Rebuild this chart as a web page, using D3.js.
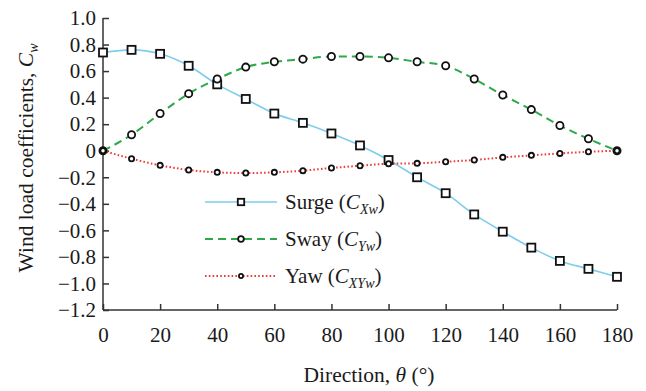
<!DOCTYPE html>
<meta charset="utf-8">
<head>
    <style type="text/css">
        body { margin: 0; background: #fff; }
        text { font-family: "Liberation Serif", "DejaVu Serif", serif; fill: #1a1a1a; }
        .axis path, .axis line { stroke: #333; stroke-width: 1.5; }
        .axis text { font-size: 21px; }
    </style>
</head>
<body>
    <script src="https://d3js.org/d3.v7.min.js"></script>
    <script>
        // data
        var directions = [0, 10, 20, 30, 40, 50, 60, 70, 80, 90, 100, 110, 120, 130, 140, 150, 160, 170, 180];
        var surge = [0.74, 0.76, 0.73, 0.64, 0.50, 0.39, 0.28, 0.21, 0.13, 0.04, -0.07, -0.20, -0.32, -0.48, -0.61, -0.73, -0.83, -0.89, -0.95];
        var sway = [0, 0.12, 0.28, 0.43, 0.54, 0.63, 0.67, 0.69, 0.71, 0.71, 0.70, 0.67, 0.64, 0.54, 0.42, 0.31, 0.19, 0.09, 0];
        var yaw = [0, -0.06, -0.11, -0.145, -0.163, -0.168, -0.163, -0.15, -0.13, -0.113, -0.098, -0.095, -0.083, -0.07, -0.05, -0.035, -0.02, -0.008, 0];
        var xTicks = [0, 20, 40, 60, 80, 100, 120, 140, 160, 180];
        var yTicks = [1.0, 0.8, 0.6, 0.4, 0.2, 0, -0.2, -0.4, -0.6, -0.8, -1.0, -1.2];

        var width = 646, height = 391;

        var xScale = d3.scaleLinear().domain([0, 180]).range([103, 617]);
        var yScale = d3.scaleLinear().domain([-1.2, 1.0]).range([310, 18]);

        var svg = d3.select("body").append("svg")
            .attr("width", width)
            .attr("height", height);

        // bottom axis, ticks pointing inward
        var xAxis = svg.append("g")
            .attr("class", "axis")
            .attr("transform", "translate(0," + yScale(-1.2) + ")")
            .call(d3.axisBottom(xScale).tickValues(xTicks).tickSizeInner(-6).tickSizeOuter(0).tickPadding(17)
                .tickFormat(function (d) { return d; }));
        xAxis.select(".domain").attr("d", "M" + xScale(0) + ",0H" + xScale(180));

        // left axis
        var yAxis = svg.append("g")
            .attr("class", "axis")
            .attr("transform", "translate(" + xScale(0) + ",0)")
            .call(d3.axisLeft(yScale).tickValues(yTicks).tickSizeInner(-6).tickSizeOuter(0).tickPadding(7)
                .tickFormat(function (d) {
                    if (d === 0) return "0";
                    return d3.format(".1f")(d).replace("-", "\u2212");
                }));
        yAxis.select(".domain").attr("d", "M0," + yScale(1.0) + "V" + yScale(-1.2));
        svg.selectAll(".axis text").attr("fill", "#1a1a1a");

        var series = [
            { name: "Surge", sub: "Xw", values: surge, color: "#7dcdec", dash: null, width: 1.6, marker: "square" },
            { name: "Sway", sub: "Yw", values: sway, color: "#2fa84a", dash: "8,5", width: 2, marker: "circle" },
            { name: "Yaw", sub: "XYw", values: yaw, color: "#ee3b3b", dash: "1.6,2.2", width: 2, marker: "small" }
        ];

        var line = d3.line()
            .x(function (d) { return xScale(d.x); })
            .y(function (d) { return yScale(d.y); })
            .curve(d3.curveMonotoneX);

        function drawMarker(g, type, cx, cy, k) {
            k = k || 1;
            if (type === "square") {
                g.append("rect").attr("x", cx - 4 * k).attr("y", cy - 4 * k).attr("width", 8 * k).attr("height", 8 * k)
                    .attr("fill", "#fff").attr("stroke", "#111").attr("stroke-width", 1.8);
            } else if (type === "circle") {
                g.append("circle").attr("cx", cx).attr("cy", cy).attr("r", 3.6 * k)
                    .attr("fill", "#fff").attr("stroke", "#111").attr("stroke-width", 1.8);
            } else {
                g.append("circle").attr("cx", cx).attr("cy", cy).attr("r", 2.6 * k)
                    .attr("fill", "#fff").attr("stroke", "#111").attr("stroke-width", 1.8);
            }
        }

        series.forEach(function (s) {
            var pts = directions.map(function (d, i) { return { x: d, y: s.values[i] }; });
            svg.append("path")
                .datum(pts)
                .attr("fill", "none")
                .attr("stroke", s.color)
                .attr("stroke-width", s.width)
                .attr("stroke-dasharray", s.dash)
                .attr("d", line);
        });

        series.forEach(function (s) {
            var g = svg.append("g");
            directions.forEach(function (d, i) {
                drawMarker(g, s.marker, xScale(d), yScale(s.values[i]));
            });
        });

        // legend
        var legend = svg.append("g");
        series.forEach(function (s, i) {
            var ly = 202 + i * 37;
            legend.append("line")
                .attr("x1", 205).attr("x2", 277).attr("y1", ly).attr("y2", ly)
                .attr("stroke", s.color).attr("stroke-width", s.width)
                .attr("stroke-dasharray", s.dash);
            drawMarker(legend, s.marker, 241, ly, 0.8);
            var t = legend.append("text")
                .attr("x", 285).attr("y", ly + 7)
                .style("font-size", "21px");
            t.append("tspan").text(s.name + " (");
            t.append("tspan").attr("font-style", "italic").text("C");
            t.append("tspan").attr("font-style", "italic").attr("font-size", "14px").attr("dy", 5).text(s.sub);
            t.append("tspan").attr("dy", -5).text(")");
        });

        // axis titles
        var xt = svg.append("text")
            .attr("x", 369).attr("y", 382)
            .attr("text-anchor", "middle")
            .style("font-size", "21.5px");
        xt.append("tspan").text("Direction, ");
        xt.append("tspan").attr("font-style", "italic").text("\u03b8");
        xt.append("tspan").text(" (\u00b0)");

        var yt = svg.append("text")
            .attr("transform", "translate(33,158) rotate(-90)")
            .attr("text-anchor", "middle")
            .style("font-size", "21.5px");
        yt.append("tspan").text("Wind load coefficients, ");
        yt.append("tspan").attr("font-style", "italic").text("C");
        yt.append("tspan").attr("font-style", "italic").attr("font-size", "14px").attr("dy", 5).text("w");
    </script>
</body>
